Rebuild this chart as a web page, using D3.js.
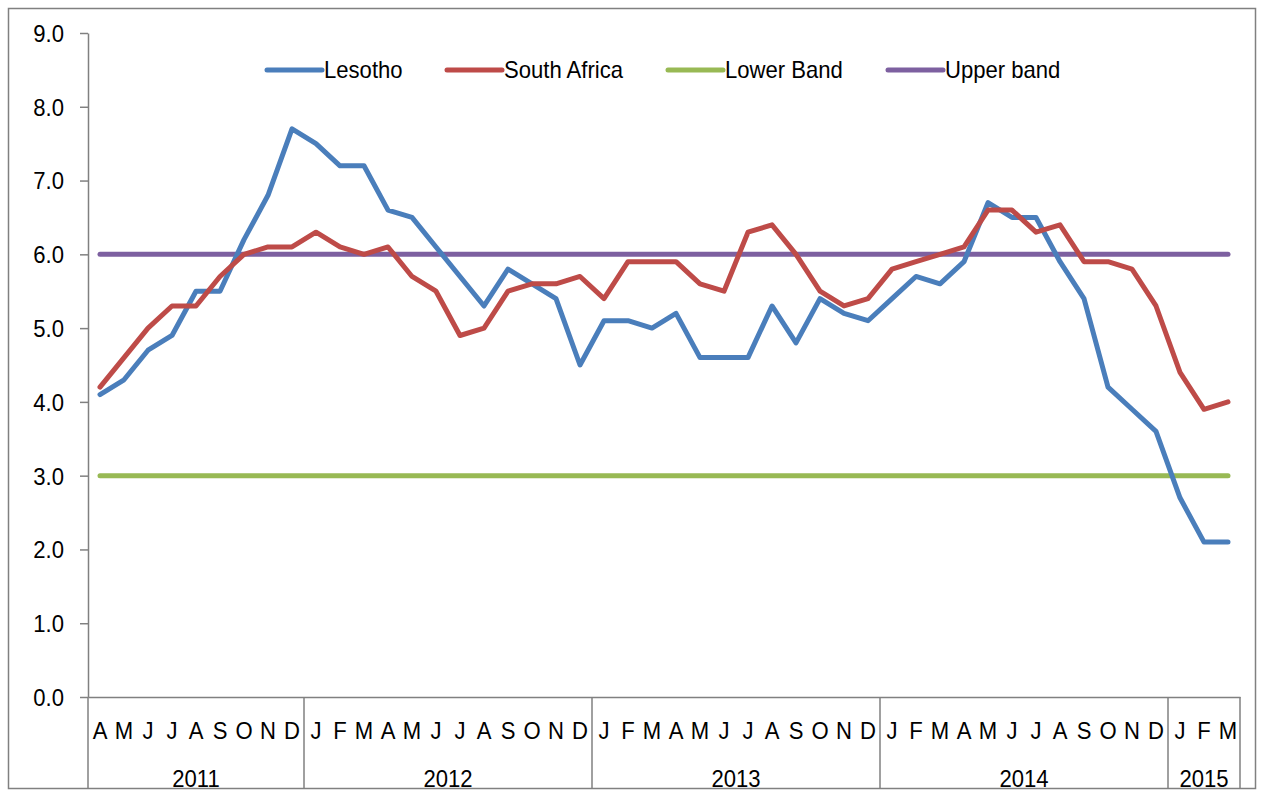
<!DOCTYPE html>
<html><head><meta charset="utf-8">
<script src="https://cdn.jsdelivr.net/npm/d3@7"></script>
<style>body{margin:0;background:#fff}svg{display:block}text{font-family:"Liberation Sans",Arial,sans-serif;fill:#000}</style>
</head><body><svg id="c" width="1261" height="792"></svg>
<script>
const years = [{y:"2011",m:["A","M","J","J","A","S","O","N","D"]},
  {y:"2012",m:["J","F","M","A","M","J","J","A","S","O","N","D"]},
  {y:"2013",m:["J","F","M","A","M","J","J","A","S","O","N","D"]},
  {y:"2014",m:["J","F","M","A","M","J","J","A","S","O","N","D"]},
  {y:"2015",m:["J","F","M"]}];
const lesotho = [4.1,4.3,4.7,4.9,5.5,5.5,6.2,6.8,7.7,
  7.5,7.2,7.2,6.6,6.5,6.1,5.7,5.3,5.8,5.6,5.4,4.5,
  5.1,5.1,5.0,5.2,4.6,4.6,4.6,5.3,4.8,5.4,5.2,5.1,
  5.4,5.7,5.6,5.9,6.7,6.5,6.5,5.9,5.4,4.2,3.9,3.6,
  2.7,2.1,2.1];
const southAfrica = [4.2,4.6,5.0,5.3,5.3,5.7,6.0,6.1,6.1,
  6.3,6.1,6.0,6.1,5.7,5.5,4.9,5.0,5.5,5.6,5.6,5.7,
  5.4,5.9,5.9,5.9,5.6,5.5,6.3,6.4,6.0,5.5,5.3,5.4,
  5.8,5.9,6.0,6.1,6.6,6.6,6.3,6.4,5.9,5.9,5.8,5.3,
  4.4,3.9,4.0];
const lowerBand = 3.0, upperBand = 6.0;
const yTicks = [0,1,2,3,4,5,6,7,8,9];

const cats = [];
years.forEach((yr,yi)=>yr.m.forEach((m,mi)=>cats.push({key:yr.y+"-"+mi,m:m,year:yr.y})));
const series = [
  {name:"Lesotho", color:"#4a7ebb", vals:lesotho},
  {name:"South Africa", color:"#be4b48", vals:southAfrica},
  {name:"Lower Band", color:"#98b954", vals:cats.map(()=>lowerBand)},
  {name:"Upper band", color:"#7d60a0", vals:cats.map(()=>upperBand)}
];

const FS = "24px", FF = "'Liberation Sans',Arial,sans-serif";
const svg = d3.select("#c");
const L=88, R=1240, T=33, B=697;
svg.append("rect").attr("x",8.5).attr("y",8.5).attr("width",1247).attr("height",780)
  .attr("fill","none").attr("stroke","#808080").attr("stroke-width",1.5);

const x = d3.scaleBand().domain(cats.map(d=>d.key)).range([L,R]).padding(0);
const y = d3.scaleLinear().domain([0,9]).range([B,T]);

// y axis
const ya = svg.append("g").attr("transform",`translate(${L},0)`)
  .call(d3.axisLeft(y).tickValues(yTicks).tickFormat(d3.format(".1f")).tickSize(8).tickSizeOuter(0));
ya.select(".domain").attr("stroke","#808080").attr("stroke-width",1.5);
ya.selectAll(".tick line").attr("stroke","#808080").attr("stroke-width",1.5);
ya.selectAll(".tick text").attr("x",-24).style("font-size",FS).attr("dy","0.35em").style("font-family",FF);

// x axis
const xa = svg.append("g").attr("transform",`translate(0,${B})`)
  .call(d3.axisBottom(x).tickFormat(k=>cats.find(c=>c.key===k).m).tickSize(0).tickSizeOuter(0));
xa.select(".domain").attr("stroke","#808080").attr("stroke-width",1.5);
xa.selectAll(".tick text").attr("y",34).attr("dy","0.35em").style("font-size",FS).style("font-family",FF);

// year separators and labels
let idx=0; const bounds=[];
years.forEach(yr=>{bounds.push({s:idx,e:idx+yr.m.length,y:yr.y}); idx+=yr.m.length;});
const bw = x.bandwidth();
const sepX = [x(cats[0].key)].concat(bounds.map(b=>x(cats[b.e-1].key)+bw));
svg.selectAll(".sep").data(sepX).join("line")
  .attr("x1",d=>d).attr("x2",d=>d).attr("y1",B).attr("y2",789)
  .attr("stroke","#808080").attr("stroke-width",1.5);
svg.selectAll(".yr").data(bounds).join("text")
  .attr("x",b=>(x(cats[b.s].key)+x(cats[b.e-1].key)+bw)/2).attr("y",787)
  .attr("text-anchor","middle").style("font-size",FS).text(b=>b.y);

// lines
const line = d3.line().x((d,i)=>x(cats[i].key)+bw/2).y(d=>y(d));
const order = [series[2],series[3],series[0],series[1]];
svg.selectAll(".ln").data(order).join("path")
  .attr("d",s=>line(s.vals)).attr("fill","none").attr("stroke",s=>s.color)
  .attr("stroke-width",5).attr("stroke-linejoin","round").attr("stroke-linecap","round");

// legend
const legX=[267,447,668,888];
const lg = svg.selectAll(".lg").data(series).join("g").attr("transform",(s,i)=>`translate(${legX[i]},70)`);
lg.append("line").attr("x1",0).attr("x2",55).attr("stroke",s=>s.color).attr("stroke-width",5).attr("stroke-linecap","round");
lg.append("text").attr("x",57).attr("dy","0.35em").style("font-size",FS).text(s=>s.name);

// condense all text horizontally (narrow face look)
svg.selectAll("text").each(function(){
  const w = this.getComputedTextLength();
  d3.select(this).attr("textLength", w*0.92).attr("lengthAdjust","spacingAndGlyphs");
});
</script></body></html>
